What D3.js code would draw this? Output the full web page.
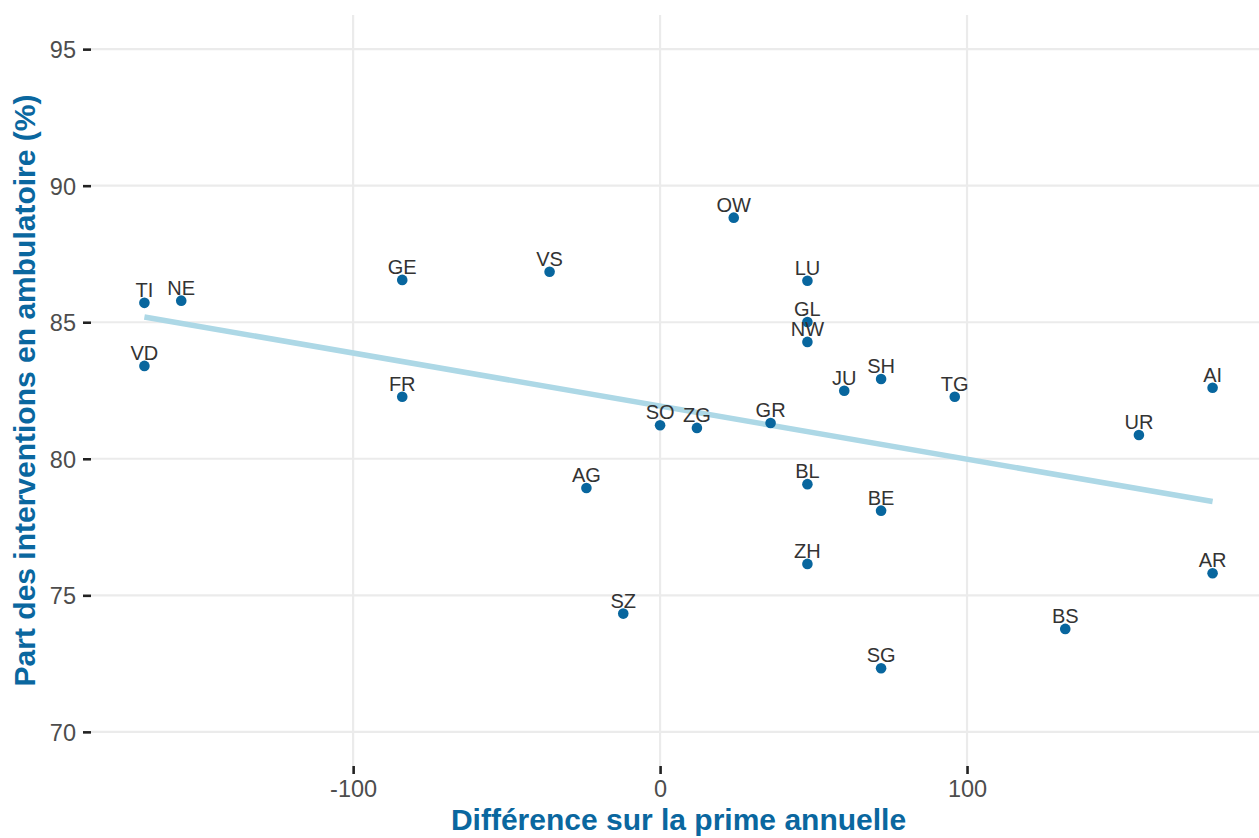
<!DOCTYPE html>
<html>
<head>
<meta charset="utf-8">
<script src="https://cdn.jsdelivr.net/npm/d3@7"></script>
<style>
  body { margin: 0; background: #fff; }
  text { font-family: "Liberation Sans", Arial, sans-serif; }
</style>
</head>
<body>
<div id="chart"></div>
<script>
// cantons, premium difference (x) and share of outpatient interventions (y)
var cantons = ["TI","NE","VD","GE","FR","VS","AG","SZ","SO","ZG","OW","GR","LU","GL","NW","BL","ZH","JU","SH","BE","SG","TG","BS","UR","AI","AR"];
var primeDiff = [-168,-156,-168,-84,-84,-36,-24,-12,0,12,24,36,48,48,48,48,48,60,72,72,72,96,132,156,180,180];
var partAmbu = [85.71,85.79,83.40,86.55,82.27,86.85,78.93,74.33,81.23,81.13,88.83,81.31,86.52,85.01,84.28,79.07,76.15,82.49,82.92,78.10,72.33,82.27,73.77,80.87,82.60,75.81];
var xTicks = [-100, 0, 100];
var yTicks = [70, 75, 80, 85, 90, 95];

var width = 1259, height = 838;
var panel = {left: 91, right: 1266, top: 15, bottom: 766};

var data = cantons.map(function(c, i) {
  return {name: c, x: primeDiff[i], y: partAmbu[i]};
});

// ggplot-like 5% expansion
var xExt = d3.extent(primeDiff);
var xPad = (xExt[1] - xExt[0]) * 0.05;
var xScale = d3.scaleLinear()
  .domain([xExt[0] - xPad, xExt[1] + xPad])
  .range([panel.left, panel.right]);

var yPad = (95 - 70) * 0.05;
var yScale = d3.scaleLinear()
  .domain([70 - yPad, 95 + yPad])
  .range([panel.bottom, panel.top]);

// linear fit (geom_smooth method lm)
var mx = d3.mean(primeDiff), my = d3.mean(partAmbu);
var sxy = d3.sum(data, function(d) { return (d.x - mx) * (d.y - my); });
var sxx = d3.sum(data, function(d) { return (d.x - mx) * (d.x - mx); });
var slope = sxy / sxx, intercept = my - slope * mx;
var fit = xExt.map(function(v) { return {x: v, y: intercept + slope * v}; });

var svg = d3.select("#chart").append("svg")
  .attr("width", width)
  .attr("height", height);

// grid
svg.append("g").selectAll("line.h")
  .data(yTicks).enter().append("line")
  .attr("x1", panel.left).attr("x2", panel.right)
  .attr("y1", function(d) { return yScale(d); })
  .attr("y2", function(d) { return yScale(d); })
  .attr("stroke", "#ebebeb").attr("stroke-width", 2.2);

svg.append("g").selectAll("line.v")
  .data(xTicks).enter().append("line")
  .attr("y1", panel.top).attr("y2", panel.bottom)
  .attr("x1", function(d) { return xScale(d); })
  .attr("x2", function(d) { return xScale(d); })
  .attr("stroke", "#ebebeb").attr("stroke-width", 2.2);

// axes
var yAxis = svg.append("g")
  .attr("transform", "translate(" + panel.left + ",0)")
  .call(d3.axisLeft(yScale).tickValues(yTicks).tickSize(8).tickPadding(7));
var xAxis = svg.append("g")
  .attr("transform", "translate(0," + panel.bottom + ")")
  .call(d3.axisBottom(xScale).tickValues(xTicks).tickSize(8).tickPadding(6)
    .tickFormat(function(d) { return d < 0 ? "-" + Math.abs(d) : d; }));

[xAxis, yAxis].forEach(function(ax) {
  ax.select(".domain").remove();
  ax.selectAll(".tick line").attr("stroke", "#222222").attr("stroke-width", 2.6);
  ax.selectAll(".tick text")
    .attr("fill", "#4d4d4d")
    .style("font-size", "23.5px")
    .style("font-family", "'Liberation Sans', Arial, sans-serif");
});
yAxis.selectAll(".tick text").attr("dy", "0.36em");

// trend line
svg.append("path")
  .datum(fit)
  .attr("fill", "none")
  .attr("stroke", "#add8e6")
  .attr("stroke-width", 5.5)
  .attr("d", d3.line()
    .x(function(d) { return xScale(d.x); })
    .y(function(d) { return yScale(d.y); }));

// points
svg.append("g").selectAll("circle")
  .data(data).enter().append("circle")
  .attr("cx", function(d) { return xScale(d.x); })
  .attr("cy", function(d) { return yScale(d.y); })
  .attr("r", 5.3)
  .attr("fill", "#08669e");

// labels
svg.append("g").selectAll("text")
  .data(data).enter().append("text")
  .attr("x", function(d) { return xScale(d.x); })
  .attr("y", function(d) { return yScale(d.y) - 6; })
  .attr("text-anchor", "middle")
  .attr("fill", "#333333")
  .style("font-size", "20px")
  .text(function(d) { return d.name; });

// axis titles
svg.append("text")
  .attr("x", (panel.left + panel.right) / 2)
  .attr("y", 830)
  .attr("text-anchor", "middle")
  .attr("fill", "#0a679f")
  .style("font-size", "30px")
  .style("font-weight", "bold")
  .text("Différence sur la prime annuelle");

svg.append("text")
  .attr("transform", "translate(35," + (panel.top + panel.bottom) / 2 + ") rotate(-90)")
  .attr("text-anchor", "middle")
  .attr("fill", "#0a679f")
  .style("font-size", "30px")
  .style("font-weight", "bold")
  .text("Part des interventions en ambulatoire (%)");
</script>
</body>
</html>
